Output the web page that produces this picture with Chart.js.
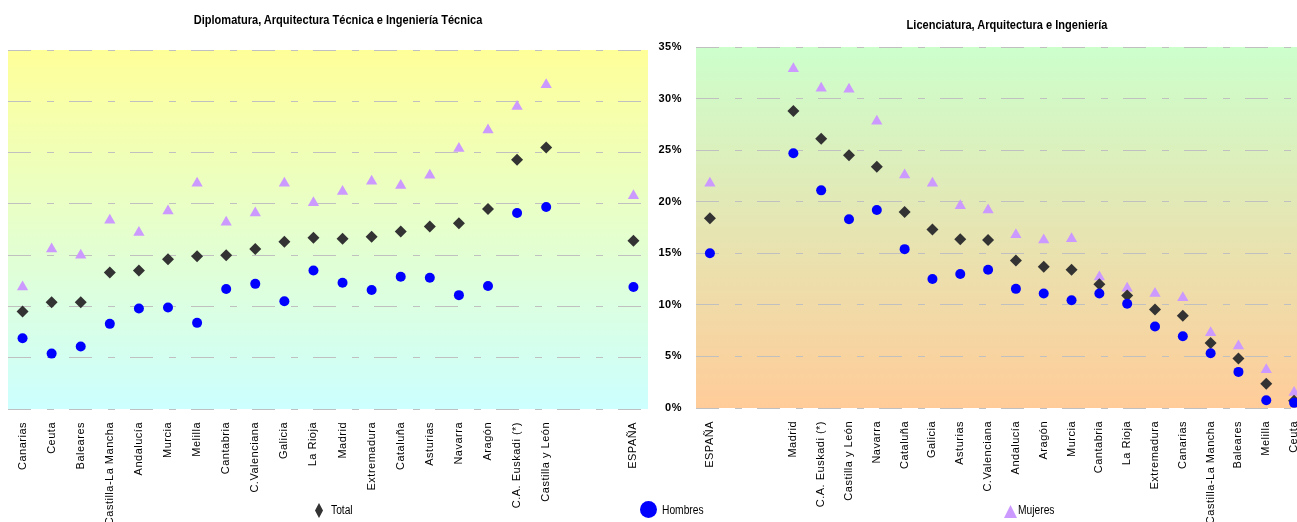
<!DOCTYPE html>
<html>
<head>
<meta charset="utf-8">
<script src="https://cdn.jsdelivr.net/npm/chart.js@4.4.1/dist/chart.umd.min.js"></script>
<style>
    html, body { margin: 0; padding: 0; background: #fff; width: 1297px; height: 522px; overflow: hidden; position: relative; }
    .chart-box { position: absolute; top: 0; height: 522px; }
    #leftBox { left: 0; width: 660px; }
    #rightBox { left: 640px; width: 680px; }
    .title { position: absolute; white-space: nowrap; transform: translateX(-50%) scaleX(0.92);
             font: bold 12px Arial, "Liberation Sans", sans-serif; line-height: 14px; color: #000; }
    .legend-text { position: absolute; top: 503px; line-height: 14px; color: #000; white-space: nowrap;
                   transform: scaleX(0.82); transform-origin: 0 50%;
                   font: 12.5px Arial, "Liberation Sans", sans-serif; }
    .legend-icon { position: absolute; }
</style>
</head>
<body>
<div class="chart-box" id="leftBox"><canvas id="leftChart"></canvas></div>
<div class="chart-box" id="rightBox"><canvas id="rightChart"></canvas></div>

<div class="title" style="left:338px; top:13px;">Diplomatura, Arquitectura Técnica e Ingeniería Técnica</div>
<div class="title" style="left:1007px; top:18px;">Licenciatura, Arquitectura e Ingeniería</div>

<div class="legend-icon" style="left:315px; top:503px; width:8px; height:15px; background:#333; clip-path:polygon(50% 0,100% 50%,50% 100%,0 50%);"></div>
<div class="legend-text" style="left:331px;">Total</div>
<div class="legend-icon" style="left:640px; top:501px; width:17px; height:17px; background:#0000ff; border-radius:50%;"></div>
<div class="legend-text" style="left:662px;">Hombres</div>
<div class="legend-icon" style="left:1004px; top:505px; width:13px; height:13px; background:#cc99ff; clip-path:polygon(50% 0,100% 100%,0 100%);"></div>
<div class="legend-text" style="left:1018px;">Mujeres</div>

<script>
// ========== DATA ==========
const leftLabels = ['Canarias', 'Ceuta', 'Baleares', 'Castilla-La Mancha', 'Andalucía', 'Murcia', 'Melilla',
    'Cantabria', 'C.Valenciana', 'Galicia', 'La Rioja', 'Madrid', 'Extremadura', 'Cataluña', 'Asturias',
    'Navarra', 'Aragón', 'C.A. Euskadi (*)', 'Castilla y León', '', '', 'ESPAÑA'];
const leftTotal   = [9.5, 10.4, 10.4, 13.3, 13.5, 14.6, 14.9, 15.0, 15.6, 16.3, 16.7, 16.6, 16.8, 17.3, 17.8, 18.1, 19.5, 24.3, 25.5, null, null, 16.4];
const leftHombres = [6.9, 5.4, 6.1, 8.3, 9.8, 9.9, 8.4, 11.7, 12.2, 10.5, 13.5, 12.3, 11.6, 12.9, 12.8, 11.1, 12.0, 19.1, 19.7, null, null, 11.9];
const leftMujeres = [11.9, 15.6, 15.0, 18.4, 17.2, 19.3, 22.0, 18.2, 19.1, 22.0, 20.1, 21.2, 22.2, 21.8, 22.8, 25.4, 27.2, 29.5, 31.6, null, null, 20.8];

const rightLabels = ['ESPAÑA', '', '', 'Madrid', 'C.A. Euskadi (*)', 'Castilla y León', 'Navarra', 'Cataluña',
    'Galicia', 'Asturias', 'C.Valenciana', 'Andalucía', 'Aragón', 'Murcia', 'Cantabria', 'La Rioja',
    'Extremadura', 'Canarias', 'Castilla-La Mancha', 'Baleares', 'Melilla', 'Ceuta'];
const rightTotal   = [18.4, null, null, 28.8, 26.1, 24.5, 23.4, 19.0, 17.3, 16.35, 16.3, 14.3, 13.7, 13.4, 12.0, 10.9, 9.55, 8.95, 6.3, 4.8, 2.35, 0.7];
const rightHombres = [15.0, null, null, 24.7, 21.1, 18.3, 19.2, 15.4, 12.5, 13.0, 13.4, 11.55, 11.1, 10.45, 11.1, 10.1, 7.9, 6.95, 5.3, 3.5, 0.75, 0.5];
const rightMujeres = [21.8, null, null, 32.9, 31.0, 30.9, 27.8, 22.6, 21.8, 19.6, 19.2, 16.8, 16.3, 16.4, 12.7, 11.6, 11.1, 10.7, 7.3, 6.0, 3.7, 1.5];

const yTicks = [0, 5, 10, 15, 20, 25, 30, 35];

// ========== COLORS ==========
const colors = {
    total: '#333333',
    hombres: '#0000ff',
    mujeres: '#cc99ff',
    grid: '#c0c0c0',
};

// ========== PLUGIN: gradient plot background ==========
const plotBackground = {
    id: 'plotBackground',
    beforeLayout(chart) {
        chart.ctx.letterSpacing = '0.5px';
    },
    beforeDraw(chart, args, opts) {
        const { ctx, chartArea: a } = chart;
        ctx.letterSpacing = '0.5px';
        const g = ctx.createLinearGradient(0, a.top, 0, a.bottom);
        g.addColorStop(0, opts.top);
        g.addColorStop(1, opts.bottom);
        ctx.save();
        ctx.fillStyle = g;
        ctx.fillRect(a.left, a.top, a.right - a.left, a.bottom - a.top);
        ctx.restore();
    }
};

function makeChart(id, labels, total, hombres, mujeres, cfg) {
    return new Chart(document.getElementById(id), {
        type: 'line',
        data: {
            labels: labels,
            datasets: [
                { label: 'Total', data: total, order: 2, showLine: false,
                  pointStyle: 'rectRot', pointRadius: 6, pointHoverRadius: 6,
                  pointBackgroundColor: colors.total, pointBorderColor: colors.total, pointBorderWidth: 0 },
                { label: 'Hombres', data: hombres, order: 1, showLine: false,
                  pointStyle: 'circle', pointRadius: 5, pointHoverRadius: 5,
                  pointBackgroundColor: colors.hombres, pointBorderColor: colors.hombres, pointBorderWidth: 0 },
                { label: 'Mujeres', data: mujeres, order: 3, showLine: false,
                  pointStyle: 'triangle', pointRadius: 6.5, pointHoverRadius: 6.5,
                  pointBackgroundColor: colors.mujeres, pointBorderColor: colors.mujeres, pointBorderWidth: 0 }
            ]
        },
        options: {
            responsive: true,
            maintainAspectRatio: false,
            animation: false,
            events: [],
            layout: { padding: cfg.padding },
            plugins: {
                legend: { display: false },
                tooltip: { enabled: false },
                plotBackground: { top: cfg.bgTop, bottom: cfg.bgBottom }
            },
            scales: {
                x: {
                    offset: true,
                    grid: { display: false },
                    border: { display: false },
                    ticks: {
                        autoSkip: false,
                        minRotation: 90,
                        maxRotation: 90,
                        padding: 5,
                        color: '#000',
                        font: { family: 'Arial, "Liberation Sans", sans-serif', size: 11 }
                    },
                    afterFit(scale) { scale.height = cfg.xHeight; }
                },
                y: {
                    min: 0,
                    max: 35,
                    afterBuildTicks(scale) { scale.ticks = yTicks.map(v => ({ value: v })); },
                    grid: { color: colors.grid, lineWidth: 1, drawTicks: false },
                    border: { display: false, dash: [23, 16, 7, 15] },
                    ticks: {
                        display: cfg.showY,
                        padding: 14,
                        color: '#000',
                        font: { family: 'Arial, "Liberation Sans", sans-serif', size: 11, weight: 'bold' },
                        callback: v => v + '%'
                    },
                    afterFit(scale) { scale.width = cfg.yWidth; }
                }
            }
        },
        plugins: [plotBackground]
    });
}

// ========== LEFT CHART ==========
makeChart('leftChart', leftLabels, leftTotal, leftHombres, leftMujeres, {
    padding: { left: 8, right: 12, top: 50, bottom: 0 },
    bgTop: '#ffff99', bgBottom: '#ccffff',
    xHeight: 113, yWidth: 0, showY: false
});

// ========== RIGHT CHART ==========
makeChart('rightChart', rightLabels, rightTotal, rightHombres, rightMujeres, {
    padding: { left: 0, right: 12, top: 47, bottom: 0 },
    bgTop: '#ccffcc', bgBottom: '#ffcc99',
    xHeight: 114, yWidth: 56, showY: true
});
</script>
</body>
</html>
